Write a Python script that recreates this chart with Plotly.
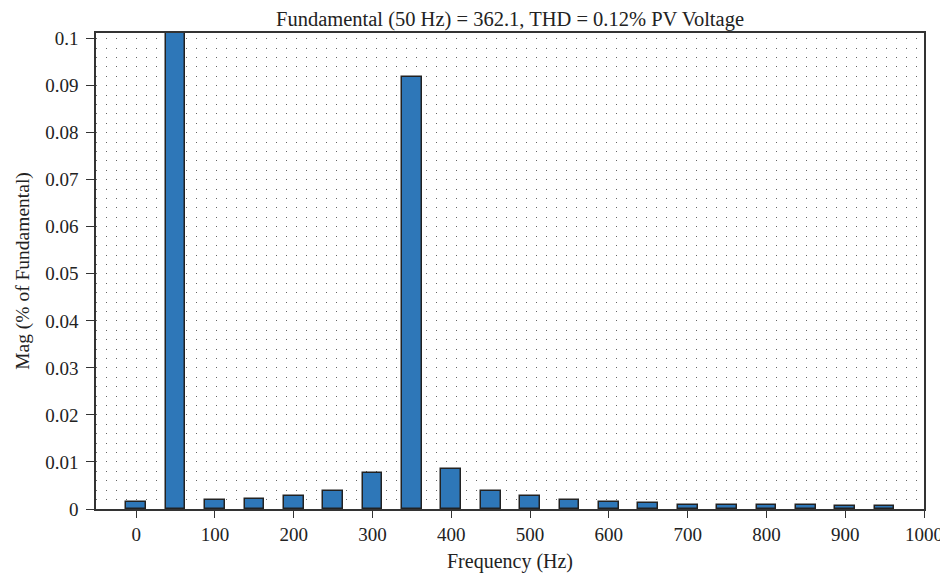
import plotly.graph_objects as go

freqs = [0, 50, 100, 150, 200, 250, 300, 350, 400, 450, 500,
         550, 600, 650, 700, 750, 800, 850, 900, 950]
mags = [0.00155, 100.0, 0.0019, 0.0022, 0.0028, 0.0039, 0.0077, 0.0918, 0.0084, 0.0038, 0.0027,
        0.0020, 0.0014, 0.0012, 0.00085, 0.00085, 0.00085, 0.00085, 0.0007, 0.00057]
x_ticks = [0, 100, 200, 300, 400, 500, 600, 700, 800, 900, 1000]
y_ticks = [0, 0.01, 0.02, 0.03, 0.04, 0.05, 0.06, 0.07, 0.08, 0.09, 0.1]
y_tick_labels = ["0", "0.01", "0.02", "0.03", "0.04", "0.05", "0.06", "0.07", "0.08", "0.09", "0.1"]

font_family = "Liberation Serif, DejaVu Serif, serif"

fig = go.Figure(go.Bar(
    x=freqs, y=mags, width=25,
    marker=dict(color="#2E77B8", line=dict(color="#222222", width=1.5)),
))

# page body has an 8px default margin; figure offset accordingly
fig.update_layout(
    width=948, height=568,
    margin=dict(l=88, r=32, t=25, b=67),
    paper_bgcolor="white", plot_bgcolor="white",
    font=dict(family=font_family, size=19, color="#222222"),
    title=dict(text="Fundamental (50 Hz) = 362.1, THD = 0.12% PV Voltage",
               x=0.5, xref="paper", xanchor="center", y=0.994, yanchor="top",
               font=dict(size=20.5, family=font_family, color="#222222")),
    showlegend=False,
    bargap=0,
)

fig.update_xaxes(
    range=[-51, 1000], tickvals=x_ticks, automargin=False,
    ticklabeloverflow="allow",
    ticks="outside", ticklen=7, tickwidth=1.2, tickcolor="#333333",
    showline=True, linecolor="#333333", linewidth=1.5, mirror=True,
    showgrid=False, zeroline=False,
    title=dict(text="Frequency (Hz)", font=dict(size=20), standoff=10),
    tickfont=dict(size=19),
)
fig.update_yaxes(
    range=[0, 0.1012], tickvals=y_ticks, ticktext=y_tick_labels, automargin=False,
    ticks="outside", ticklen=8, tickwidth=1.2, tickcolor="#333333",
    showline=True, linecolor="#333333", linewidth=1.5, mirror=True,
    showgrid=False, zeroline=False, ticklabelstandoff=4,
    minor=dict(dtick=0.002, tick0=0, showgrid=True, gridcolor="#666666",
               gridwidth=1, griddash="1px,9px", ticks=""),
    title=dict(text="Mag (% of Fundamental)", font=dict(size=19.5), standoff=10),
    tickfont=dict(size=19),
)

fig.write_html("out.html")
